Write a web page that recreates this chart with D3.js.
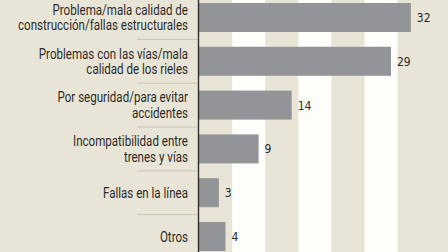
<!DOCTYPE html>
<html>
<head>
<meta charset="utf-8">
<script src="https://cdn.jsdelivr.net/npm/d3@7"></script>
<style>
	body { margin: 0; background: #e9e5d6; }
	.label-text { font-family: Roboto, 'Noto Sans', sans-serif; font-size: 14px; fill: #2b2b2b; }
	.value-text { font-family: 'DejaVu Sans Condensed', sans-serif; font-size: 12px; fill: #2b2b2b; }
</style>
</head>
<body>
<script>
// chart data
var categories = [
	['Problema/mala calidad de', 'construcción/fallas estructurales'],
	['Problemas con las vías/mala', 'calidad de los rieles'],
	['Por seguridad/para evitar', 'accidentes'],
	['Incompatibilidad entre', 'trenes y vías'],
	['Fallas en la línea'],
	['Otros']
]
var values = [32, 29, 14, 9, 3, 4]
var stripeTicks = [0, 5, 10, 15, 20, 25, 30]

var width = 448
var height = 252

var svg = d3.select('body')
	.append('svg')
		.attr('width', width)
		.attr('height', height)

svg.append('rect')
	.attr('width', width)
	.attr('height', height)
	.attr('fill', '#e9e5d6')

var x = d3.scaleLinear()
	.domain([0, 35])
	.range([199, 199 + 35 * 6.62])

var y = d3.scaleBand()
	.domain(d3.range(categories.length))
	.range([3, 251])
	.paddingInner(0.338)
	.paddingOuter(0)

// white stripes every other 5 units
svg.selectAll('.stripe')
		.data(stripeTicks.filter(function(t, i) { return i % 2 == 1 }))
	.enter().append('rect')
		.attr('class', 'stripe')
		.attr('x', function(d) { return x(d) })
		.attr('y', 0)
		.attr('width', function(d) { return x(d + 5) - x(d) })
		.attr('height', height)
		.attr('fill', '#fdfdfa')

// bars
svg.selectAll('.bar')
		.data(values)
	.enter().append('rect')
		.attr('class', 'bar')
		.attr('x', x(0))
		.attr('y', function(d, i) { return y(i) })
		.attr('width', function(d) { return x(d) - x(0) })
		.attr('height', y.bandwidth())
		.attr('fill', '#939498')

// value labels
svg.selectAll('.value-text')
		.data(values)
	.enter().append('text')
		.attr('class', 'value-text')
		.attr('x', function(d) { return x(d) + 6 })
		.attr('y', function(d, i) { return y(i) + y.bandwidth() / 2 + 4.5 })
		.text(function(d) { return d })

// separators between category labels
var gap = y.step() - y.bandwidth()
svg.selectAll('.sep')
		.data(d3.range(1, categories.length))
	.enter().append('line')
		.attr('x1', 137)
		.attr('x2', 197)
		.attr('y1', function(i) { return y(i) - gap / 2 })
		.attr('y2', function(i) { return y(i) - gap / 2 })
		.attr('stroke', '#c8c4b6')
		.attr('stroke-width', 1)

// category labels
var labels = svg.selectAll('.label-text')
		.data(categories)
	.enter().append('text')
		.attr('class', 'label-text')
		.attr('text-anchor', 'end')

labels.each(function(lines, i) {
	var cy = y(i) + y.bandwidth() / 2
	var lh = 15.5
	var top = cy - (lines.length - 1) * lh / 2 + 5
	d3.select(this).selectAll('tspan')
			.data(lines)
		.enter().append('tspan')
			.attr('x', 188)
			.attr('y', function(d, j) { return top + j * lh })
			.text(function(d) { return d })
})

// condense the label font so the longest line is ~170px wide like the original
var tspans = svg.selectAll('.label-text tspan')
var maxLen = d3.max(tspans.nodes(), function(n) { return n.getComputedTextLength() })
var squeeze = 170 / maxLen
tspans.each(function() {
	var len = this.getComputedTextLength()
	d3.select(this)
		.attr('textLength', len * squeeze)
		.attr('lengthAdjust', 'spacingAndGlyphs')
})

// axis line
svg.append('line')
	.attr('x1', 198.5)
	.attr('x2', 198.5)
	.attr('y1', 0)
	.attr('y2', height)
	.attr('stroke', '#2b2b2b')
	.attr('stroke-width', 1.4)
</script>
</body>
</html>
